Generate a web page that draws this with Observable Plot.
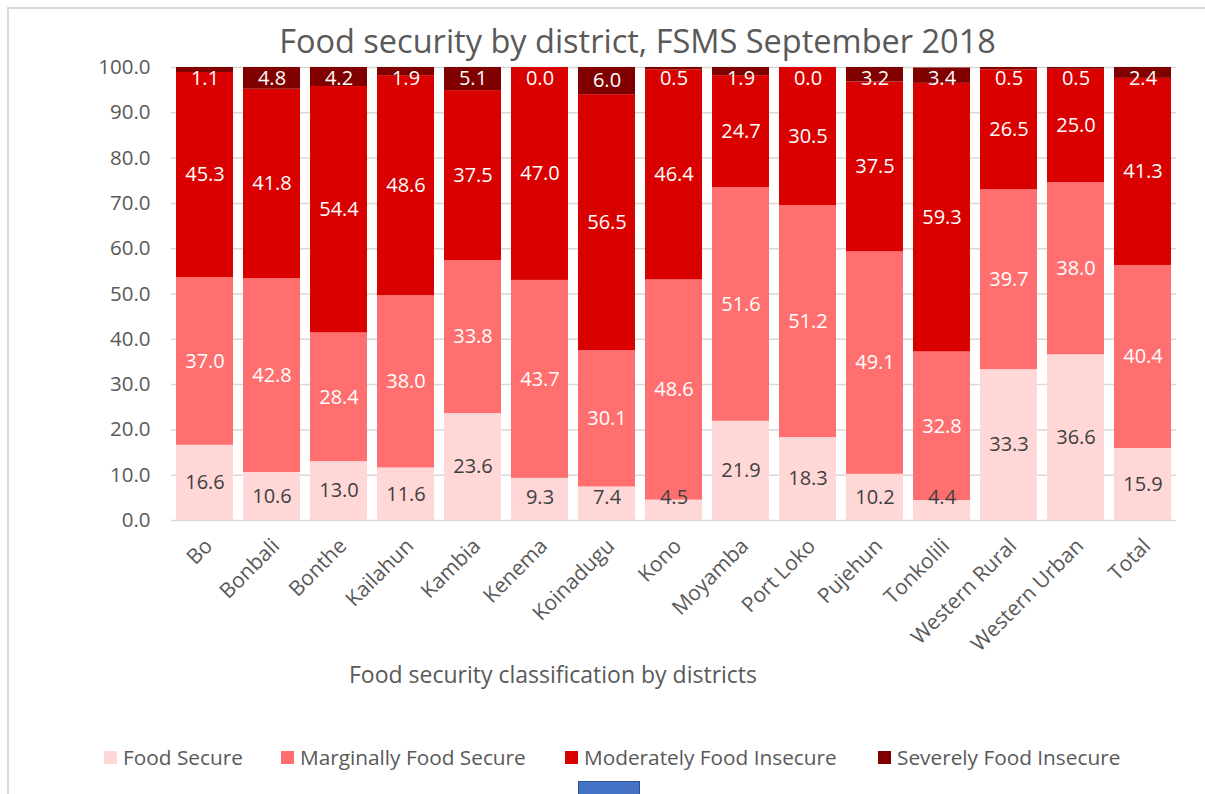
<!DOCTYPE html>
<html>
<head>
<meta charset="utf-8">
<script src="https://cdn.jsdelivr.net/npm/d3@7"></script>
<script src="https://cdn.jsdelivr.net/npm/@observablehq/plot@0.6"></script>
<style>
  html, body { margin: 0; padding: 0; background: #fff; overflow: hidden; }
  #wrap { position: relative; width: 1205px; height: 794px; overflow: hidden; font-family: "Open Sans", sans-serif; }
  #frame { position: absolute; left: 7px; top: 7px; width: 1400px; height: 1000px; border: 2px solid #d9d9d9; box-sizing: border-box; }
  #chart { position: absolute; left: 0; top: 0; }
  #title { position: absolute; left: 0; width: 1275px; top: 18px; text-align: center; font-size: 32.5px; color: #595959; white-space: nowrap; }
  #xtitle { position: absolute; left: 0; width: 1106px; top: 658px; text-align: center; font-size: 23px; color: #595959; white-space: nowrap; }
  #legend { position: absolute; left: 0; top: 743px; width: 1205px; font-size: 20.8px; color: #595959; }
  .item { position: absolute; top: 0; white-space: nowrap; display: flex; align-items: center; }
  .sw { display: inline-block; width: 13px; height: 13px; margin-right: 6px; }
  #blue { position: absolute; left: 578px; top: 781px; width: 62px; height: 20px; background: #4472C4; border: 1px solid #2F528F; box-sizing: border-box; }
</style>
</head>
<body>
<div id="wrap">
  <div id="frame"></div>
  <div id="chart"></div>
  <div id="title">Food security by district, FSMS September 2018</div>
  <div id="xtitle">Food security classification by districts</div>
  <div id="legend"></div>
  <div id="blue"></div>
</div>
<script>
const categories = ["Bo","Bonbali","Bonthe","Kailahun","Kambia","Kenema","Koinadugu","Kono","Moyamba","Port Loko","Pujehun","Tonkolili","Western Rural","Western Urban","Total"];
const series = ["Food Secure","Marginally Food Secure","Moderately Food Insecure","Severely Food Insecure"];
const foodSecure = [16.6,10.6,13.0,11.6,23.6,9.3,7.4,4.5,21.9,18.3,10.2,4.4,33.3,36.6,15.9];
const marginallySecure = [37.0,42.8,28.4,38.0,33.8,43.7,30.1,48.6,51.6,51.2,49.1,32.8,39.7,38.0,40.4];
const moderatelyInsecure = [45.3,41.8,54.4,48.6,37.5,47.0,56.5,46.4,24.7,30.5,37.5,59.3,26.5,25.0,41.3];
const severelyInsecure = [1.1,4.8,4.2,1.9,5.1,0.0,6.0,0.5,1.9,0.0,3.2,3.4,0.5,0.5,2.4];
const yTicks = [0,10,20,30,40,50,60,70,80,90,100];
const colors = ["#FFD7D7","#FF6F6F","#D90000","#800000"];

const values = [foodSecure, marginallySecure, moderatelyInsecure, severelyInsecure];
const rows = series.flatMap((s, si) => categories.map((c, ci) => ({category: c, series: s, si, value: values[si][ci]})));

// label positions: segment middles, kept inside the plot
const labels = [];
categories.forEach((c, ci) => {
  let base = 0;
  values.forEach((arr, si) => {
    const v = arr[ci];
    let mid = base + v / 2;
    if (si === 0) mid = Math.max(mid, 5);
    if (si === 3) mid = Math.min(mid, 97.5);
    labels.push({category: c, si, value: v, y: mid});
    base += v;
  });
});

const chart = Plot.plot({
  width: 1205,
  height: 794,
  marginLeft: 171,
  marginRight: 29,
  marginTop: 67,
  marginBottom: 274,
  style: {fontFamily: "Open Sans, sans-serif", fontSize: "20px", color: "#595959", background: "transparent"},
  x: {domain: categories, padding: 0, label: null},
  y: {domain: [0, 100], label: null},
  color: {domain: series, range: colors},
  marks: [
    Plot.gridY(yTicks, {stroke: "#d9d9d9", strokeOpacity: 1, strokeWidth: 1.5}),
    Plot.axisY(yTicks, {tickSize: 0, tickPadding: 21, tickFormat: d => d.toFixed(1), fontSize: 20.5, label: null, fill: "#595959"}),
    Plot.barY(rows, {x: "category", y: "value", fill: "series", insetLeft: 5, insetRight: 5, clip: true}),
    Plot.axisX({tickSize: 0, tickRotate: -45, tickPadding: 22, dx: 4, fontSize: 21, label: null, fill: "#595959"}),
    Plot.text(labels, {x: "category", y: "y", text: d => d.value.toFixed(1), fill: d => d.si === 0 ? "#404040" : "#ffffff", fontSize: 20})
  ]
});
document.getElementById("chart").appendChild(chart);

const legendX = [104, 281, 565, 878];
const legend = document.getElementById("legend");
series.forEach((s, i) => {
  const it = document.createElement("div");
  it.className = "item";
  it.style.left = legendX[i] + "px";
  it.innerHTML = `<span class="sw" style="background:${colors[i]}"></span><span>${s}</span>`;
  legend.appendChild(it);
});
</script>
</body>
</html>
